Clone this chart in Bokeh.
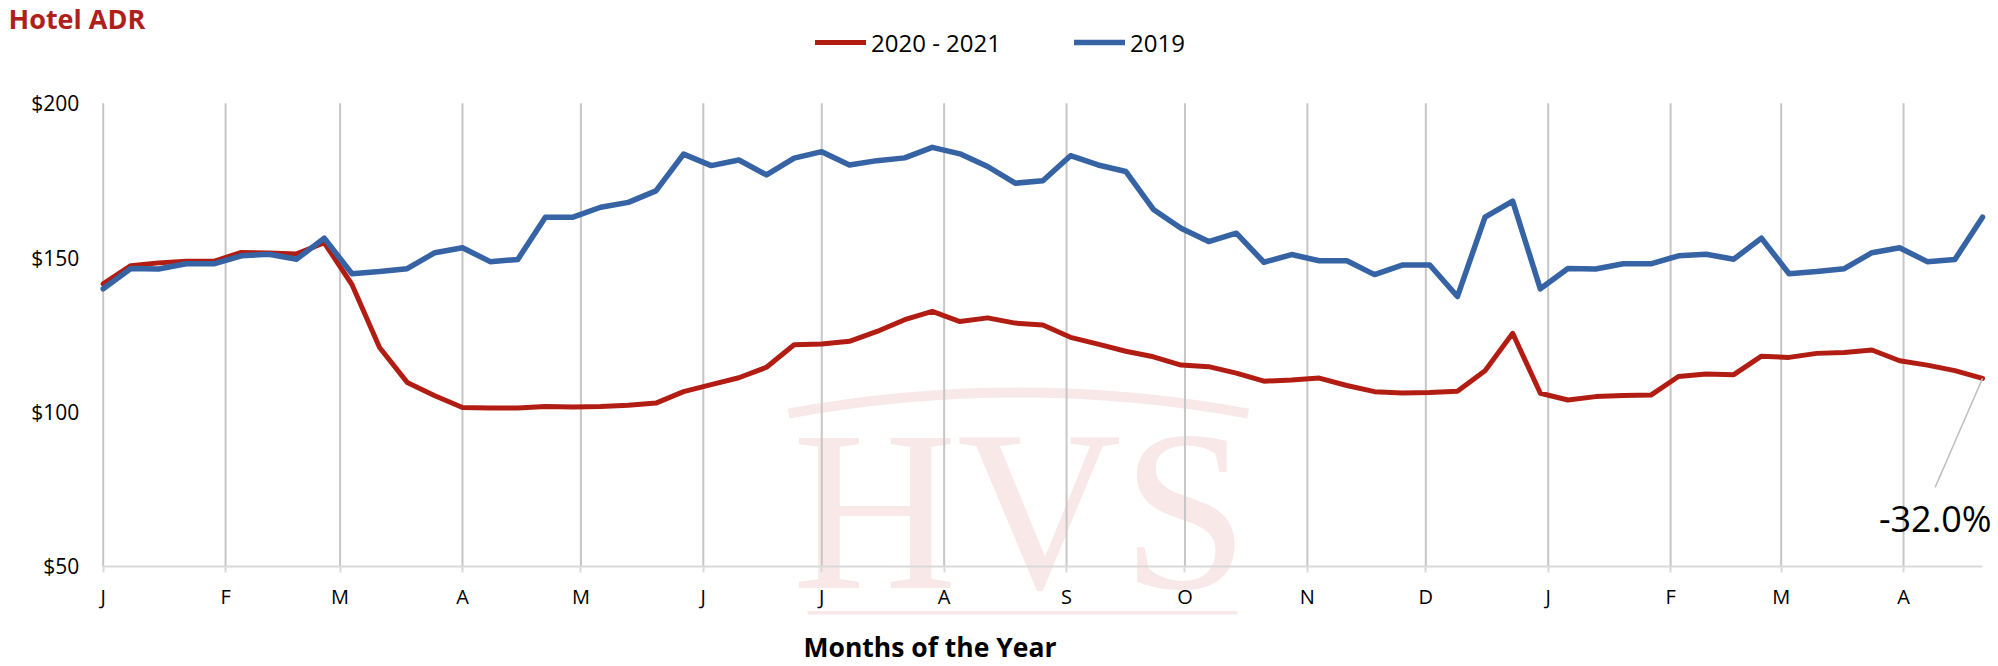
import pandas as pd
from bokeh.plotting import figure
from bokeh.models import (ColumnDataSource, FixedTicker, NumeralTickFormatter, Legend,
                          LegendItem, Label, BoxAnnotation, Range1d)
from bokeh.embed import file_html
from bokeh.resources import INLINE

# ---------------- data ----------------
week_start = "2020-01-01"

adr_2020_21 = [141.5, 147.4, 148.3, 148.8, 148.8, 151.7, 151.5, 151.2, 154.8, 141.3,
               120.9, 109.6, 105.3, 101.5, 101.3, 101.3, 101.8, 101.6, 101.8, 102.2,
               102.9, 106.6, 108.9, 111.1, 114.5, 121.8, 122.0, 122.9, 126.1, 129.9,
               132.6, 129.3, 130.5, 128.8, 128.2, 124.2, 122.0, 119.7, 117.9, 115.2,
               114.7, 112.6, 110.0, 110.4, 111.0, 108.6, 106.6, 106.2, 106.3, 106.7,
               113.4, 125.5, 106.1, 103.9, 105.0, 105.4, 105.5, 111.5, 112.3, 112.1,
               118.1, 117.7, 119.0, 119.3, 120.1, 116.6, 115.2, 113.4, 110.9]

adr_2019 = [139.9, 146.5, 146.3, 148.0, 148.0, 150.6, 151.1, 149.5, 156.3, 144.8,
            145.5, 146.4, 151.6, 153.2, 148.7, 149.4, 163.1, 163.1, 166.3, 167.9,
            171.6, 183.5, 179.8, 181.6, 176.8, 182.2, 184.3, 180.0, 181.4, 182.3,
            185.7, 183.6, 179.5, 174.1, 174.9, 183.0, 180.0, 177.9, 165.6, 159.5,
            155.2, 157.9, 148.5, 151.0, 149.0, 149.0, 144.5, 147.6, 147.6, 137.4,
            163.1, 168.3, 139.9, 146.5, 146.3, 148.0, 148.0, 150.6, 151.1, 149.5,
            156.3, 144.8, 145.5, 146.4, 151.6, 153.2, 148.7, 149.4, 163.1]

month_labels = ["J", "F", "M", "A", "M", "J", "J", "A", "S", "O", "N", "D",
                "J", "F", "M", "A"]
month_starts = ["2020-01-01", "2020-02-01", "2020-03-01", "2020-04-01", "2020-05-01",
                "2020-06-01", "2020-07-01", "2020-08-01", "2020-09-01", "2020-10-01",
                "2020-11-01", "2020-12-01", "2021-01-01", "2021-02-01", "2021-03-01",
                "2021-04-01"]
y_ticks = [50, 100, 150, 200]
series_labels = ["2020 - 2021", "2019"]
change_label = "-32.0%"

# ---------------- derived ----------------
origin = pd.Timestamp(week_start)
dates = pd.date_range(week_start, periods=len(adr_2019), freq="7D")
day = [(d - origin).days for d in dates]
month_days = [(pd.Timestamp(m) - origin).days for m in month_starts]

src = ColumnDataSource(dict(day=day, a2020=adr_2020_21, a2019=adr_2019))
grid_src = ColumnDataSource(dict(x=month_days, y0=[y_ticks[0]] * len(month_days),
                                 y1=[y_ticks[-1]] * len(month_days)))

RED = "#B21D13"
BLUE = "#3563A4"
FONT = "Open Sans"
W, H = 1998, 666

# frame covers the whole canvas; axes are pinned inside it
p = figure(width=W, height=H, output_backend="svg", toolbar_location=None,
           x_range=Range1d(-26.01, 480.05), y_range=Range1d(17.62, 233.25),
           min_border=0, min_border_left=0, min_border_right=0,
           min_border_top=0, min_border_bottom=0)
p.title.visible = False
p.outline_line_color = None
p.background_fill_color = "white"
p.border_fill_color = "white"
p.xgrid.visible = False
p.ygrid.visible = False

# ---------------- watermark (decoration) ----------------
WM = "#F8E8E8"
p.add_layout(Label(x=1020, y=156, x_units="screen", y_units="screen", text="HVS",
                   text_font="Liberation Serif", text_font_size="228px",
                   text_color=WM, text_align="center", text_baseline="middle",
                   level="image"))
p.add_layout(BoxAnnotation(left=807, right=1237, bottom=52, top=55.5,
                           left_units="screen", right_units="screen",
                           bottom_units="screen", top_units="screen",
                           fill_color=WM, fill_alpha=1, line_color=None,
                           level="image"))
p.quadratic(x0=173.6, y0=99.5, x1=290.0, y1=99.5, cx=231.8, cy=113.1,
            line_color=WM, line_width=10, level="image")

# ---------------- month grid lines ----------------
p.segment(x0="x", y0="y0", x1="x", y1="y1", source=grid_src,
          line_color="#C6C6C6", line_width=2, level="underlay")

# ---------------- series ----------------
r_red = p.line("day", "a2020", source=src, line_color=RED, line_width=5,
               line_join="round", line_cap="round")
r_blue = p.line("day", "a2019", source=src, line_color=BLUE, line_width=5.5,
                line_join="round", line_cap="round")

# leader line and change label
p.segment(x0=day[-1], y0=adr_2020_21[-1], x1=464, y1=75.6,
          line_color="#BFBFBF", line_width=1.5)
p.add_layout(Label(x=1991, y=148, x_units="screen", y_units="screen", text=change_label,
                   text_font=FONT, text_font_size="36px", text_color="#000000",
                   text_align="right", text_baseline="middle"))

# ---------------- axes ----------------
p.xaxis.fixed_location = y_ticks[0]
p.xaxis.bounds = (day[0], day[-1])
p.xaxis.ticker = FixedTicker(ticks=month_days)
p.xaxis.major_label_overrides = {d: l for d, l in zip(month_days, month_labels)}
p.xaxis.axis_line_color = "#D9D9D9"
p.xaxis.axis_line_width = 2
p.xaxis.major_tick_line_color = "#D9D9D9"
p.xaxis.major_tick_line_width = 2
p.xaxis.major_tick_in = 0
p.xaxis.major_tick_out = 6
p.xaxis.minor_tick_line_color = None
p.xaxis.major_label_text_font = FONT
p.xaxis.major_label_text_font_size = "20px"
p.xaxis.major_label_text_color = "#000000"
p.xaxis.major_label_standoff = 11

p.yaxis.fixed_location = day[0]
p.yaxis.bounds = (y_ticks[0], y_ticks[-1])
p.yaxis.ticker = FixedTicker(ticks=y_ticks)
p.yaxis.formatter = NumeralTickFormatter(format="$0")
p.yaxis.axis_line_color = None
p.yaxis.major_tick_line_color = None
p.yaxis.minor_tick_line_color = None
p.yaxis.major_label_text_font = FONT
p.yaxis.major_label_text_font_size = "21px"
p.yaxis.major_label_text_color = "#000000"
p.yaxis.major_label_standoff = 18

# ---------------- texts ----------------
p.add_layout(Label(x=8, y=648, x_units="screen", y_units="screen", text="Hotel ADR",
                   text_font=FONT, text_font_size="27px", text_font_style="bold",
                   text_color="#B0201A", text_align="left", text_baseline="middle"))
p.add_layout(Label(x=803, y=20, x_units="screen", y_units="screen",
                   text="Months of the Year", text_font=FONT, text_font_size="26.5px",
                   text_font_style="bold", text_color="#000000", text_align="left",
                   text_baseline="middle"))

legend = Legend(items=[LegendItem(label=series_labels[0], renderers=[r_red]),
                       LegendItem(label=series_labels[1], renderers=[r_blue])],
                orientation="horizontal", location=(815, 607),
                glyph_width=51, glyph_height=34, label_height=34, label_standoff=5,
                spacing=73, padding=0, margin=0, border_line_color=None,
                background_fill_alpha=0, label_text_font=FONT,
                label_text_font_size="24px", label_text_color="#000000")
p.add_layout(legend)

open("out.html", "w").write(file_html(p, INLINE))
